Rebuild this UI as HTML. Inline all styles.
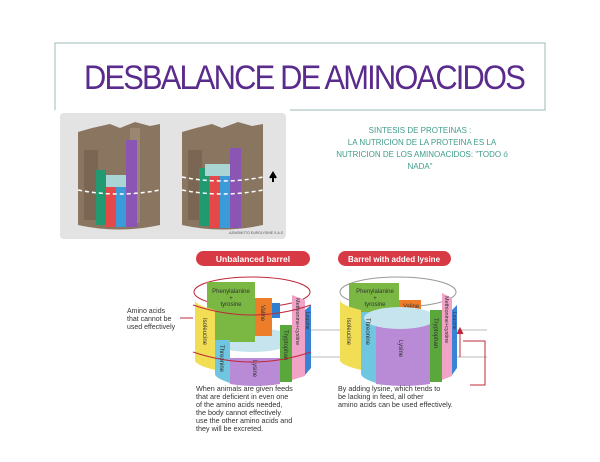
<!DOCTYPE html>
<html><head><meta charset="utf-8"><style>
html,body{margin:0;padding:0;background:#fff;}
svg{display:block;}
text{font-family:"Liberation Sans",sans-serif;}
</style></head><body>
<svg width="600" height="462" viewBox="0 0 600 462" xmlns="http://www.w3.org/2000/svg">
<rect width="600" height="462" fill="#fff"/>
<!-- title frame -->
<path d="M55 110 V43 H545 V110 H290" fill="none" stroke="#9fb8b8" stroke-width="1"/>
<text x="304" y="89" text-anchor="middle" font-size="34" fill="#5a2a8c" textLength="440" lengthAdjust="spacingAndGlyphs" letter-spacing="-2">DESBALANCE DE AMINOACIDOS</text>
<!-- photo panel -->
<rect x="60" y="113" width="226" height="126" rx="4" fill="#e4e3e3"/>
<g>
 <path d="M78 132 L92 128 L110 124 L120 128 L135 122 L150 126 L160 124 V225 Q119 234 78 225 Z" fill="#8a7561"/>
 <rect x="84" y="150" width="14" height="70" fill="#7a6652"/>
 <rect x="130" y="128" width="10" height="95" fill="#9b8671"/>
 <rect x="96" y="170" width="10" height="55" fill="#219a72"/>
 <rect x="106" y="177" width="10" height="50" fill="#e54848"/>
 <rect x="116" y="178" width="10" height="49" fill="#3b9ad8"/>
 <rect x="126" y="140" width="11" height="87" fill="#8b55b4"/>
 <rect x="106" y="175" width="20" height="12" fill="#a9d6d4"/>
 <path d="M78 190 Q119 198 160 190" stroke="#fff" stroke-width="1.5" stroke-dasharray="4 3" fill="none"/>
</g>
<g>
 <path d="M182 132 L196 128 L212 124 L222 128 L238 122 L252 126 L263 124 V225 Q222 234 182 225 Z" fill="#8a7561"/>
 <rect x="188" y="150" width="14" height="70" fill="#7a6652"/>
 <rect x="199" y="168" width="10" height="58" fill="#219a72"/>
 <rect x="209" y="176" width="11" height="52" fill="#e54848"/>
 <rect x="220" y="176" width="10" height="52" fill="#3b9ad8"/>
 <rect x="230" y="148" width="11" height="80" fill="#8b55b4"/>
 <rect x="205" y="164" width="25" height="12" fill="#a9d6d4"/>
 <path d="M182 177 Q222 185 263 177" stroke="#fff" stroke-width="1.5" stroke-dasharray="4 3" fill="none"/>
 <path d="M182 190 Q222 198 263 190" stroke="#fff" stroke-width="1.5" stroke-dasharray="4 3" fill="none"/>
 <path d="M273 182 V176 M270 178 L273 173 L276 178" stroke="#000" stroke-width="2" fill="#000"/>
</g>
<text x="283" y="234" font-size="3.5" fill="#555" text-anchor="end">AJINOMOTO EUROLYSINE S.A.S</text>
<!-- green text -->
<g font-size="8" fill="#3f9c8a" text-anchor="middle">
<text x="420" y="133">SINTESIS DE PROTEINAS :</text>
<text x="422" y="145">LA NUTRICION DE LA PROTEINA ES LA</text>
<text x="422" y="157">NUTRICION DE LOS AMINOACIDOS: "TODO ó</text>
<text x="420" y="169">NADA"</text>
</g>
<!-- pills -->
<rect x="196" y="251" width="114" height="15" rx="7.5" fill="#d83a45"/>
<text x="253" y="262" font-size="8.5" font-weight="bold" fill="#fff" text-anchor="middle">Unbalanced barrel</text>
<rect x="338" y="251" width="113" height="15" rx="7.5" fill="#d83a45"/>
<text x="394" y="262" font-size="8" font-weight="bold" fill="#fff" text-anchor="middle">Barrel with added lysine</text>
<!-- guide lines -->
<line x1="300" y1="330" x2="487" y2="330" stroke="#bbb"/>
<line x1="300" y1="357" x2="487" y2="357" stroke="#bbb"/>
<path d="M460 357 V330 M457 334 L460 328 L463 334" stroke="#c0283a" fill="#c0283a"/>
<path d="M463 341 H485 V385 H470" stroke="#c0283a" fill="none"/>
<!-- left barrel -->
<g>
 <ellipse cx="252" cy="292" rx="58" ry="15" fill="#fff" stroke="#c0283a"/>
 <ellipse cx="252" cy="340" rx="42" ry="12" fill="#c6e4ee"/>
 <rect x="207" y="282" width="48" height="60" fill="#7ab843"/>
 <text x="231" y="293" font-size="6" fill="#333" text-anchor="middle">Phenylalanine</text>
 <text x="231" y="300" font-size="6" fill="#333" text-anchor="middle">+</text>
 <text x="231" y="306" font-size="6" fill="#333" text-anchor="middle">tyrosine</text>
 <rect x="255" y="298" width="17" height="38" fill="#ee7d2a"/>
 <rect x="272" y="303" width="8" height="15" fill="#2f7fd0"/>
 <path d="M195 300 Q195 305 215 310 V370 Q195 365 195 360 Z" fill="#f1de55"/>
 <path d="M215 340 H230 V383 Q215 378 215 374 Z" fill="#6ec6e0"/>
 <path d="M230 358 H280 V384 Q255 388 230 384 Z" fill="#b98ad6"/>
 <rect x="280" y="325" width="12" height="57" fill="#5aa83c"/>
 <path d="M292 295 L305 300 V376 L292 380 Z" fill="#f0a3c6"/>
 <path d="M305 310 L311 305 V368 L305 375 Z" fill="#3a82d6"/>
 <path d="M193 305 Q252 325 311 305" stroke="#c0283a" fill="none"/>
 <path d="M193 352 Q252 372 311 352" stroke="#c0283a" fill="none"/>
 <g font-size="6" fill="#333">
  <text transform="translate(203,318) rotate(90)">Isoleucine</text>
  <text transform="translate(220,345) rotate(90)">Threonine</text>
  <text transform="translate(253,360) rotate(90)">Lysine</text>
  <text transform="translate(261,305) rotate(90)">Valine</text>
  <text transform="translate(284,330) rotate(90)">Tryptophan</text>
  <text transform="translate(296,298) rotate(90)" font-size="5.5">Methionine+cystine</text>
  <text transform="translate(306,312) rotate(90)" font-size="5">Leucine</text>
 </g>
 <line x1="180" y1="318" x2="193" y2="318" stroke="#c0283a"/>
</g>
<g font-size="7" fill="#333">
 <text x="127" y="313">Amino acids</text>
 <text x="127" y="321">that cannot be</text>
 <text x="127" y="329">used effectively</text>
</g>
<!-- right barrel -->
<g>
 <ellipse cx="398" cy="292" rx="58" ry="15" fill="#fff" stroke="#999"/>
 <rect x="349" y="283" width="50" height="30" fill="#7ab843"/>
 <text x="375" y="293" font-size="6" fill="#333" text-anchor="middle">Phenylalanine</text>
 <text x="375" y="300" font-size="6" fill="#333" text-anchor="middle">+</text>
 <text x="375" y="306" font-size="6" fill="#333" text-anchor="middle">tyrosine</text>
 <rect x="399" y="300" width="22" height="10" fill="#ee7d2a"/>
 <text x="403" y="308" font-size="6" fill="#333">Valine</text>
 <path d="M340 300 Q340 305 361 310 V370 Q340 365 340 360 Z" fill="#f1de55"/>
 <path d="M361 312 H376 V383 Q361 378 361 374 Z" fill="#6ec6e0"/>
 <path d="M376 318 H430 V384 Q403 388 376 384 Z" fill="#b98ad6"/>
 <ellipse cx="400" cy="318" rx="36" ry="11" fill="#c6e4ee"/>
 <rect x="430" y="310" width="12" height="72" fill="#5aa83c"/>
 <path d="M442 293 L452 298 V376 L442 380 Z" fill="#f0a3c6"/>
 <path d="M452 310 L457 305 V368 L452 375 Z" fill="#3a82d6"/>
 <g font-size="6" fill="#333">
  <text transform="translate(347,318) rotate(90)">Isoleucine</text>
  <text transform="translate(366,318) rotate(90)">Threonine</text>
  <text transform="translate(399,340) rotate(90)">Lysine</text>
  <text transform="translate(434,318) rotate(90)">Tryptophan</text>
  <text transform="translate(445,296) rotate(90)" font-size="5.5">Methionine+cystine</text>
  <text transform="translate(453,312) rotate(90)" font-size="5">Leucine</text>
 </g>
</g>
<!-- captions -->
<g font-size="7.2" fill="#333">
 <text x="196" y="391">When animals are given feeds</text>
 <text x="196" y="399">that are deficient in even one</text>
 <text x="196" y="407">of the amino acids needed,</text>
 <text x="196" y="415">the body cannot effectively</text>
 <text x="196" y="423">use the other amino acids and</text>
 <text x="196" y="431">they will be excreted.</text>
 <text x="338" y="391">By adding lysine, which tends to</text>
 <text x="338" y="399">be lacking in feed, all other</text>
 <text x="338" y="407">amino acids can be used effectively.</text>
</g>
</svg>
</body></html>
